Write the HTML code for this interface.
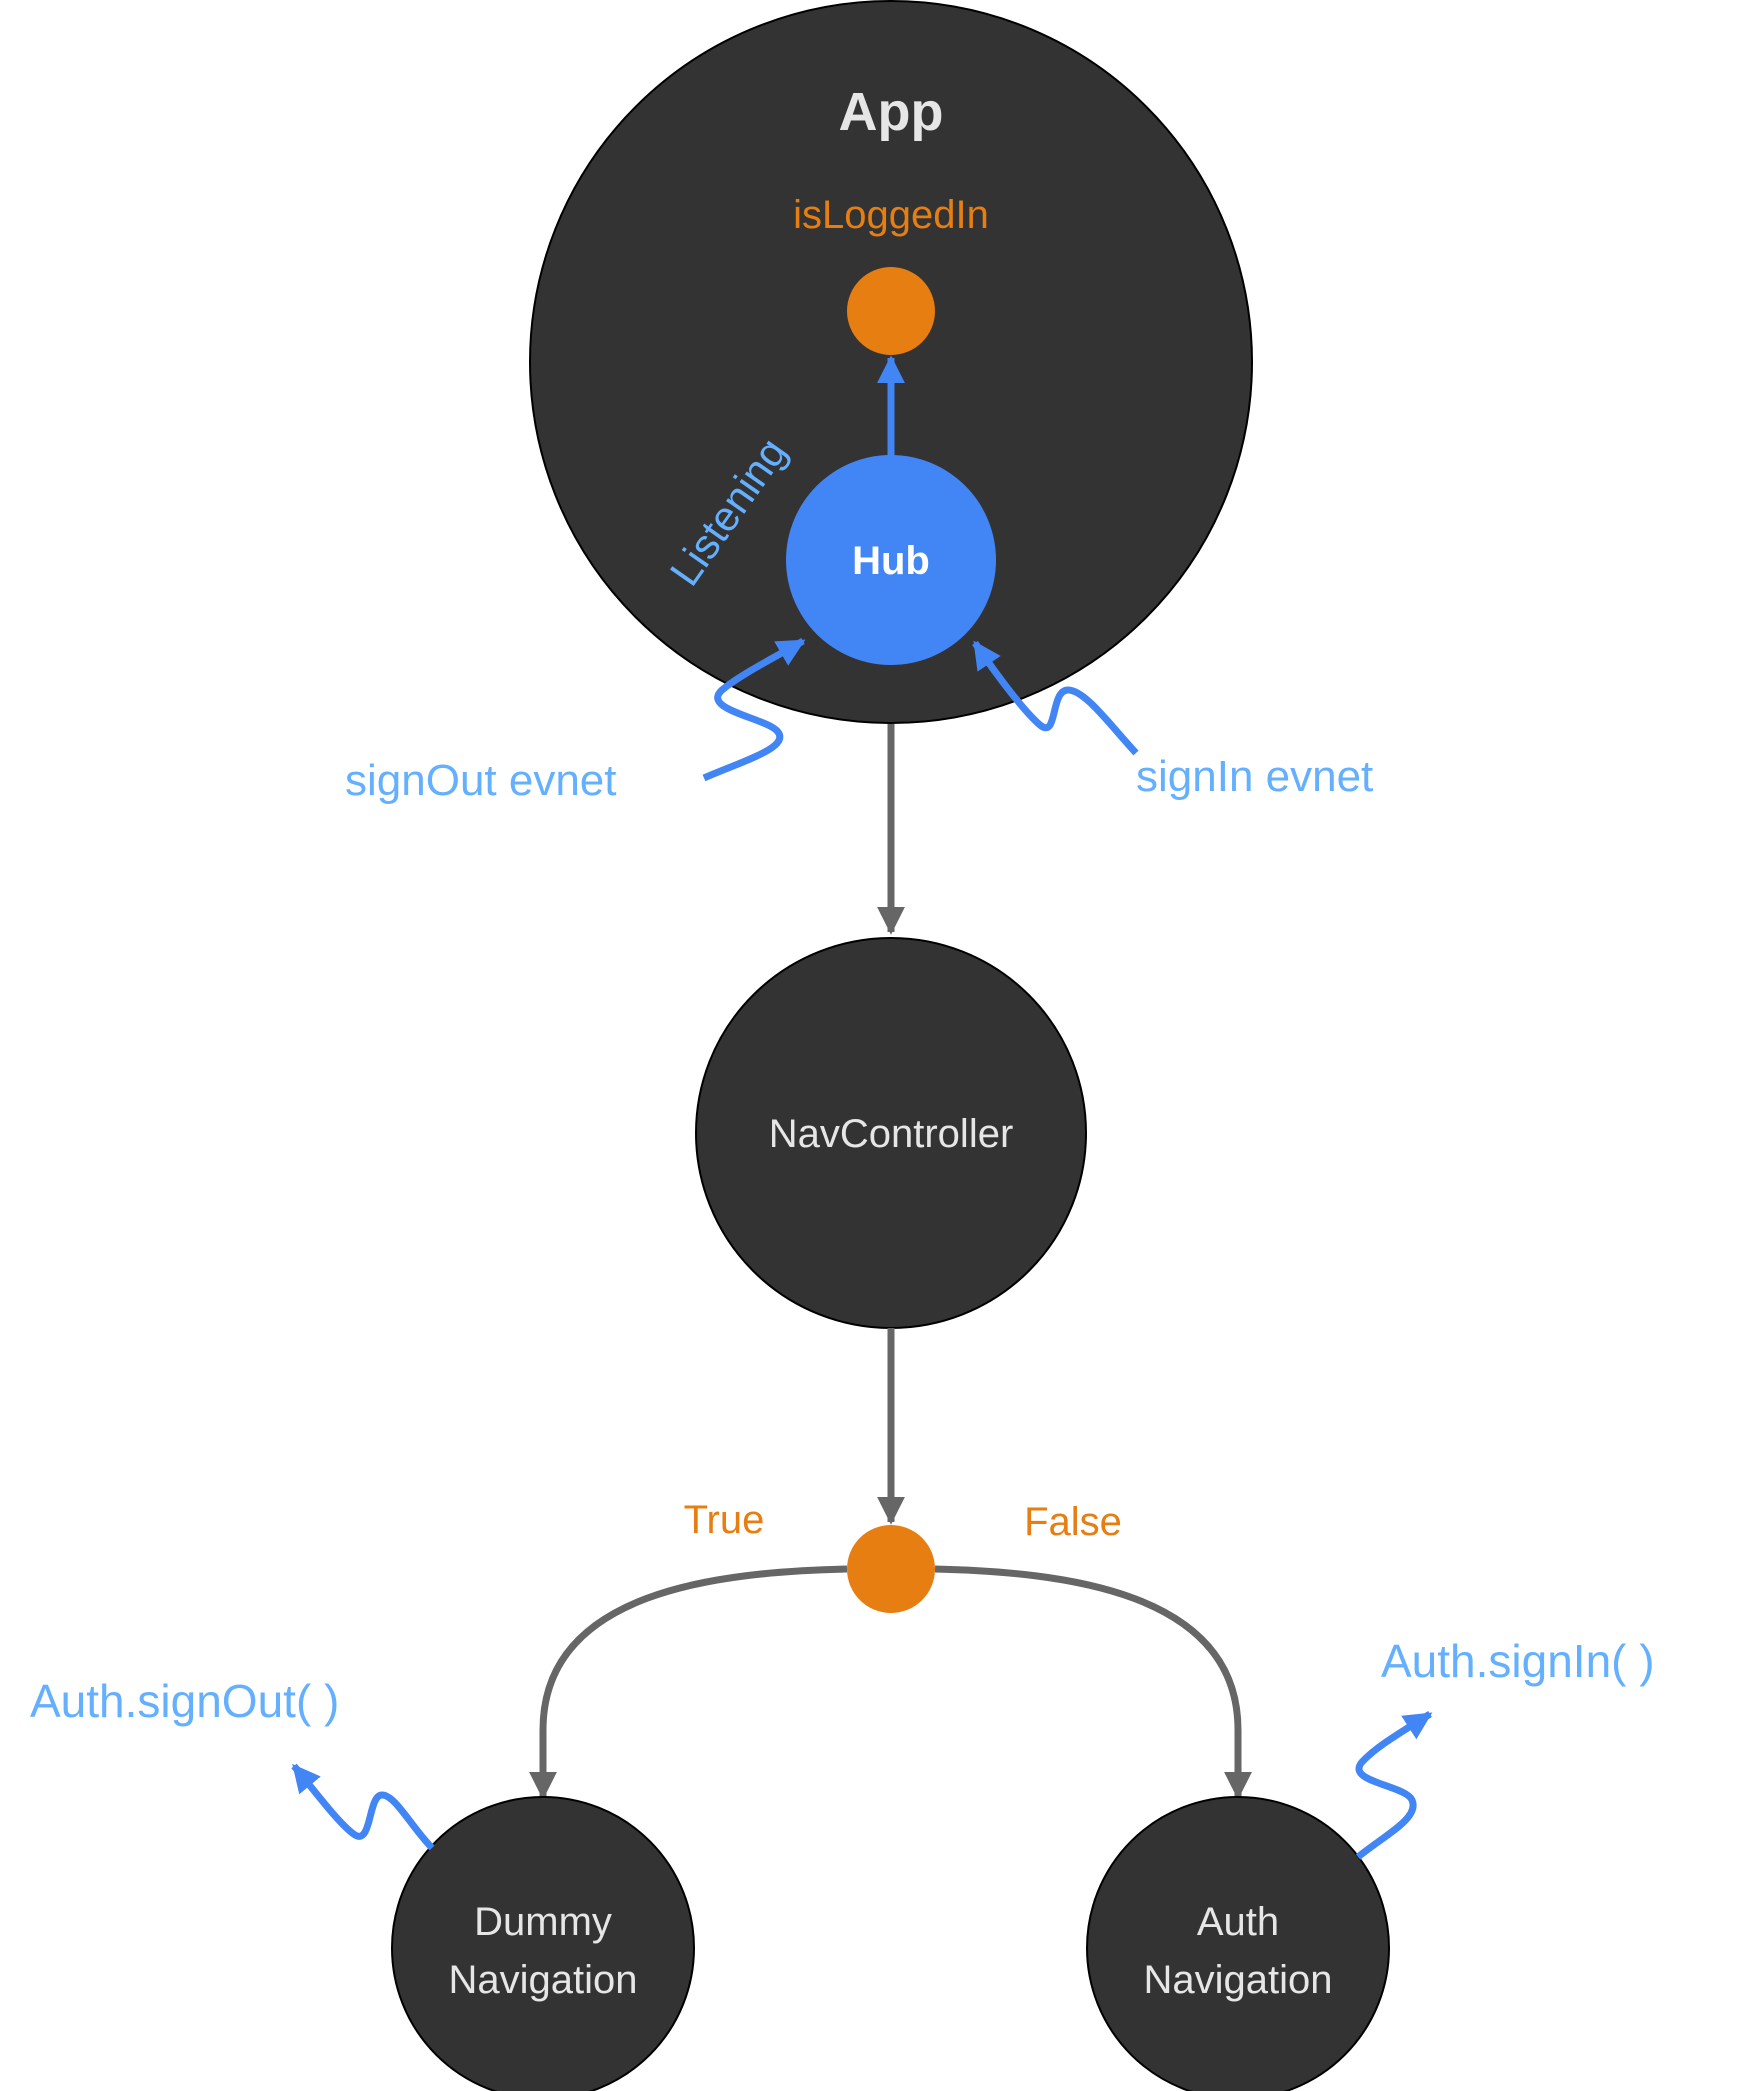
<!DOCTYPE html>
<html><head><meta charset="utf-8"><style>
html,body{margin:0;padding:0;background:#fff}
svg{display:block}
text{font-family:"Liberation Sans","DejaVu Sans",sans-serif}
</style></head><body>
<svg width="1743" height="2091" viewBox="0 0 1743 2091" xmlns="http://www.w3.org/2000/svg">
<defs>
<marker id="ag" viewBox="0 0 10 10" refX="9" refY="5" markerWidth="4" markerHeight="4" orient="auto" markerUnits="strokeWidth"><path d="M0,0 L10,5 L0,10 z" fill="#666"/></marker>
<marker id="ab" viewBox="0 0 10 10" refX="9" refY="5" markerWidth="4" markerHeight="4" orient="auto" markerUnits="strokeWidth"><path d="M0,0 L10,5 L0,10 z" fill="#4285f4"/></marker>
</defs>
<circle cx="891" cy="362" r="361" fill="#333" stroke="#000" stroke-width="2"/>
<text x="891" y="130" font-size="54" fill="#e6e6e6" text-anchor="middle" font-weight="bold">App</text>
<text x="891" y="228" font-size="40" fill="#e67e12" text-anchor="middle">isLoggedIn</text>
<circle cx="891" cy="311" r="44" fill="#e67e12"/>
<line x1="891" y1="458" x2="891" y2="358" stroke="#4285f4" stroke-width="7" marker-end="url(#ab)"/>
<circle cx="891" cy="560" r="105" fill="#4285f4"/>
<text x="891" y="574" font-size="40" fill="#fff" text-anchor="middle" font-weight="bold">Hub</text>
<text x="0" y="0" font-size="42" fill="#64b0ff" text-anchor="middle" transform="translate(740,520) rotate(-55)">Listening</text>
<path d="M704,778 C740,762 790,748 778,732 C768,718 700,710 722,690 C740,675 770,660 803,641" fill="none" stroke="#4285f4" stroke-width="7" marker-end="url(#ab)"/>
<path d="M1136,753 C1110,725 1085,690 1068,690 C1050,690 1058,740 1040,725 C1025,712 1000,680 975,643" fill="none" stroke="#4285f4" stroke-width="7" marker-end="url(#ab)"/>
<text x="345" y="795" font-size="44" fill="#64b0ff">signOut evnet</text>
<text x="1136" y="791" font-size="44" fill="#64b0ff">signIn evnet</text>
<line x1="891" y1="724" x2="891" y2="932" stroke="#666" stroke-width="7" marker-end="url(#ag)"/>
<circle cx="891" cy="1133" r="195" fill="#333" stroke="#000" stroke-width="2"/>
<text x="891" y="1147" font-size="40" fill="#e6e6e6" text-anchor="middle">NavController</text>
<line x1="891" y1="1328" x2="891" y2="1522" stroke="#666" stroke-width="7" marker-end="url(#ag)"/>
<path d="M847,1569 C720,1572 543,1590 543,1730 L543,1797" fill="none" stroke="#666" stroke-width="7" marker-end="url(#ag)"/>
<path d="M935,1569 C1060,1572 1238,1590 1238,1730 L1238,1797" fill="none" stroke="#666" stroke-width="7" marker-end="url(#ag)"/>
<circle cx="891" cy="1569" r="44" fill="#e67e12"/>
<text x="724" y="1533" font-size="40" fill="#e67e12" text-anchor="middle">True</text>
<text x="1073" y="1535" font-size="40" fill="#e67e12" text-anchor="middle">False</text>
<circle cx="543" cy="1948" r="151" fill="#333" stroke="#000" stroke-width="2"/>
<text x="543" y="1935" font-size="40" fill="#e6e6e6" text-anchor="middle">Dummy</text>
<text x="543" y="1993" font-size="40" fill="#e6e6e6" text-anchor="middle">Navigation</text>
<circle cx="1238" cy="1948" r="151" fill="#333" stroke="#000" stroke-width="2"/>
<text x="1238" y="1935" font-size="40" fill="#e6e6e6" text-anchor="middle">Auth</text>
<text x="1238" y="1993" font-size="40" fill="#e6e6e6" text-anchor="middle">Navigation</text>
<path d="M432,1848 C410,1825 395,1795 382,1795 C368,1795 372,1845 355,1835 C340,1825 318,1795 294,1766" fill="none" stroke="#4285f4" stroke-width="7" marker-end="url(#ab)"/>
<path d="M1358,1857 C1385,1835 1420,1818 1412,1800 C1405,1785 1345,1782 1362,1762 C1378,1745 1405,1730 1430,1714" fill="none" stroke="#4285f4" stroke-width="7" marker-end="url(#ab)"/>
<text x="30" y="1717" font-size="46" fill="#64b0ff">Auth.signOut( )</text>
<text x="1381" y="1677" font-size="46" fill="#64b0ff">Auth.signIn( )</text>
</svg>
</body></html>
